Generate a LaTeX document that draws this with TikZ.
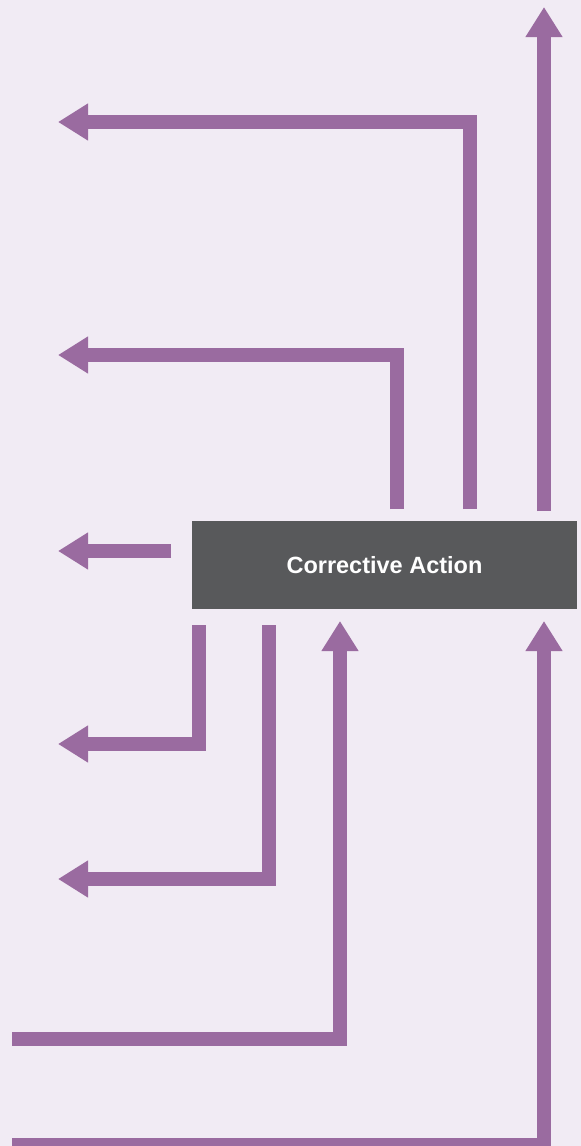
\documentclass[tikz,border=0pt]{standalone}
\usepackage{fontspec}
\setmainfont{Liberation Sans}
\usetikzlibrary{arrows.meta}
\definecolor{paper}{HTML}{F1EBF4}
\definecolor{plum}{HTML}{9A6BA0}
\definecolor{slate}{HTML}{58595B}
\tikzset{
 actionbox/.style={fill=slate,minimum width=385pt,minimum height=88pt,inner sep=0pt,text=white,font=\bfseries\fontsize{23.5}{26}\selectfont},
 flow/.style={-{Triangle[length=30pt,width=35pt]},draw=plum,line width=14pt},
 lead/.style={draw=plum,line width=14pt}
}
\begin{document}
\begin{tikzpicture}[x=1pt,y=-1pt]
  \fill[paper] (0,0) rectangle (581,1146);
  \useasboundingbox (0,0) rectangle (581,1146);

  \node[actionbox] (action) at (384.5,565) {Corrective Action};

  % outgoing, above the box
  \coordinate (outA) at (544,511);  \coordinate (endA) at (544,7);
  \coordinate (outB) at (470,509);  \coordinate (endB) at (58,122);
  \coordinate (outC) at (397,509);  \coordinate (endC) at (58,355);
  % outgoing, left and below
  \coordinate (outD) at (171,551);  \coordinate (endD) at (58,551);
  \coordinate (outE) at (199,625);  \coordinate (endE) at (58,744);
  \coordinate (outF) at (269,625);  \coordinate (endF) at (58,879);
  % incoming, from the left edge
  \coordinate (inG) at (12,1039);   \coordinate (tipG) at (340,621);
  \coordinate (inH) at (12,1145);   \coordinate (tipH) at (544,621);

  \draw[flow] (outA) -- (endA);
  \draw[flow] (outB) |- (endB);
  \draw[flow] (outC) |- (endC);
  \draw[flow] (outD) -- (endD);
  \draw[flow] (outE) |- (endE);
  \draw[flow] (outF) |- (endF);
  \draw[flow] (inG) -| (tipG);
  \draw[flow] (inH) -| (tipH);
\end{tikzpicture}
\end{document}
